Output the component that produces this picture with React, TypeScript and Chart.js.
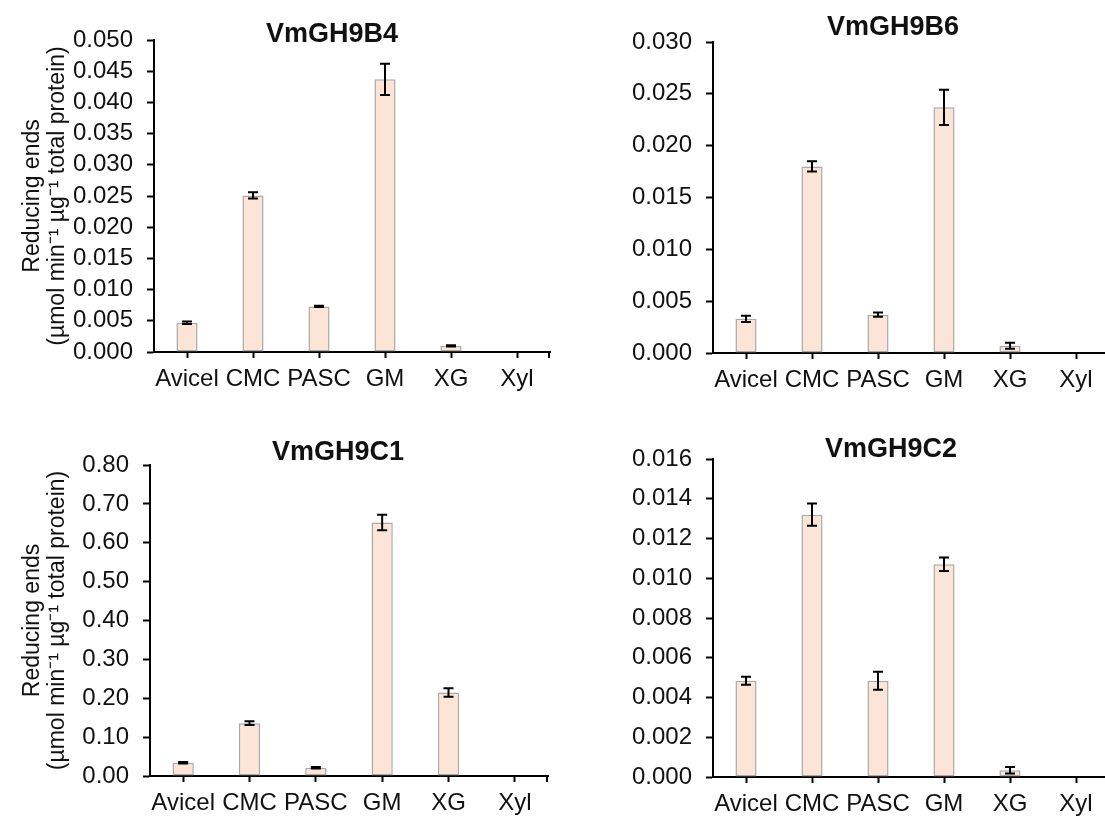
import React, { useEffect, useRef } from "react";
import { Chart, registerables } from "chart.js";

Chart.register(...registerables);

// ---------- data ----------
const categories = ["Avicel", "CMC", "PASC", "GM", "XG", "Xyl"];

const valuesB4 = [0.0047, 0.0251, 0.0073, 0.0437, 0.001, 0];
const errorsB4 = [0.0002, 0.0005, 0.0001, 0.0025, 0.0001, 0];
const ticksB4 = [0, 0.005, 0.01, 0.015, 0.02, 0.025, 0.03, 0.035, 0.04, 0.045, 0.05];

const valuesB6 = [0.0033, 0.018, 0.0037, 0.0237, 0.0007, 0];
const errorsB6 = [0.0003, 0.0005, 0.0002, 0.0017, 0.0003, 0];
const ticksB6 = [0, 0.005, 0.01, 0.015, 0.02, 0.025, 0.03];

const valuesC1 = [0.034, 0.136, 0.021, 0.652, 0.215, 0];
const errorsC1 = [0.002, 0.005, 0.002, 0.02, 0.011, 0];
const ticksC1 = [0, 0.1, 0.2, 0.3, 0.4, 0.5, 0.6, 0.7, 0.8];

const valuesC2 = [0.00484, 0.0132, 0.00484, 0.0107, 0.00034, 0];
const errorsC2 = [0.0002, 0.00056, 0.00045, 0.00034, 0.00016, 0];
const ticksC2 = [0, 0.002, 0.004, 0.006, 0.008, 0.01, 0.012, 0.014, 0.016];

const yTitleLines = ["Reducing ends", "(µmol min⁻¹ µg⁻¹ total protein)"];

// ---------- styles ----------
const FONT = '"Liberation Sans", Arial, Helvetica, sans-serif';
const TEXT = "#111111";
const BAR_FILL = "#FCE4D6";
const BAR_EDGE = "#A8A8A8";

type Panel = {
  title: string;
  values: number[];
  errors: number[];
  ticks: number[];
  decimals: number;
  yTitle: boolean;
  cl: number; ct: number; cw: number; ch: number;
  left: number; right: number; top: number; bottom: number;
  tx: number; ty: number;
};

const panels: Panel[] = [
  {
    title: "VmGH9B4", values: valuesB4, errors: errorsB4, ticks: ticksB4, decimals: 3, yTitle: true,
    cl: 0, ct: 0, cw: 575, ch: 405,
    left: 154, right: 550, top: 40, bottom: 352,
    tx: 332, ty: 42,
  },
  {
    title: "VmGH9B6", values: valuesB6, errors: errorsB6, ticks: ticksB6, decimals: 3, yTitle: false,
    cl: 590, ct: 0, cw: 545, ch: 405,
    left: 713, right: 1109, top: 42, bottom: 353,
    tx: 893, ty: 35,
  },
  {
    title: "VmGH9C1", values: valuesC1, errors: errorsC1, ticks: ticksC1, decimals: 2, yTitle: true,
    cl: 0, ct: 410, cw: 575, ch: 409,
    left: 150, right: 548, top: 465, bottom: 776,
    tx: 338, ty: 460,
  },
  {
    title: "VmGH9C2", values: valuesC2, errors: errorsC2, ticks: ticksC2, decimals: 3, yTitle: false,
    cl: 590, ct: 410, cw: 545, ch: 409,
    left: 713, right: 1109, top: 459, bottom: 777,
    tx: 891, ty: 457,
  },
];

// ---------- plugins ----------
const panelTitlePlugin = {
  id: "panelTitle",
  afterDraw(chart: any, _args: any, opts: any) {
    if (!opts || !opts.text) return;
    const ctx = chart.ctx;
    ctx.save();
    ctx.font = `bold ${opts.size}px ${FONT}`;
    ctx.fillStyle = opts.color;
    ctx.textAlign = "center";
    ctx.textBaseline = "alphabetic";
    ctx.fillText(opts.text, opts.x, opts.y);
    ctx.restore();
  },
};

const errorBarPlugin = {
  id: "errorBars",
  afterDatasetsDraw(chart: any, _args: any, opts: any) {
    const errs: number[] = (opts && opts.errors) || [];
    const meta = chart.getDatasetMeta(0);
    const ys = chart.scales.y;
    const data = chart.data.datasets[0].data as number[];
    const ctx = chart.ctx;
    ctx.save();
    ctx.strokeStyle = "#000";
    ctx.lineWidth = 2;
    meta.data.forEach((bar: any, i: number) => {
      const e = errs[i];
      if (!e) return;
      const v = data[i];
      const yHi = ys.getPixelForValue(v + e);
      const yLo = ys.getPixelForValue(Math.max(0, v - e));
      const x = bar.x;
      const cap = 5;
      ctx.beginPath();
      ctx.moveTo(x, yHi);
      ctx.lineTo(x, yLo);
      ctx.moveTo(x - cap, yHi);
      ctx.lineTo(x + cap, yHi);
      ctx.moveTo(x - cap, yLo);
      ctx.lineTo(x + cap, yLo);
      ctx.stroke();
    });
    ctx.restore();
  },
};

const endTickPlugin = {
  id: "endTick",
  afterDraw(chart: any) {
    const { right, bottom } = chart.chartArea;
    const ctx = chart.ctx;
    ctx.save();
    ctx.strokeStyle = "#000";
    ctx.lineWidth = 2;
    ctx.beginPath();
    ctx.moveTo(right - 1, bottom);
    ctx.lineTo(right - 1, bottom + 6);
    ctx.stroke();
    ctx.restore();
  },
};

function makeConfig(p: Panel): any {
  const tickFont = { family: FONT, size: 24 };
  return {
    type: "bar",
    data: {
      labels: categories,
      datasets: [
        {
          data: p.values,
          backgroundColor: BAR_FILL,
          borderColor: BAR_EDGE,
          borderWidth: 1.5,
          borderSkipped: false,
          barPercentage: 0.32,
          categoryPercentage: 1,
        },
      ],
    },
    options: {
      responsive: false,
      maintainAspectRatio: false,
      animation: false,
      events: [],
      layout: {
        padding: {
          left: 0,
          top: p.top - p.ct,
          right: p.cl + p.cw - p.right,
          bottom: 0,
        },
      },
      plugins: {
        legend: { display: false },
        tooltip: { enabled: false },
        title: { display: false },
        panelTitle: { text: p.title, size: 27, color: TEXT, x: p.tx - p.cl, y: p.ty - p.ct },
        errorBars: { errors: p.errors },
      },
      scales: {
        x: {
          type: "category",
          offset: true,
          grid: {
            offset: false,
            drawOnChartArea: false,
            drawTicks: true,
            tickLength: 6,
            tickWidth: 2,
            tickColor: "#000",
          },
          border: { display: true, color: "#000", width: 2 },
          ticks: {
            autoSkip: false,
            maxRotation: 0,
            minRotation: 0,
            padding: 7,
            color: TEXT,
            font: tickFont,
          },
          afterFit: (s: any) => {
            s.height = p.ct + p.ch - p.bottom;
          },
        },
        y: {
          min: 0,
          max: p.ticks[p.ticks.length - 1],
          afterBuildTicks: (s: any) => {
            s.ticks = p.ticks.map((v) => ({ value: v }));
          },
          grid: {
            drawOnChartArea: false,
            drawTicks: true,
            tickLength: 7,
            tickWidth: 2,
            tickColor: "#000",
          },
          border: { display: true, color: "#000", width: 2 },
          ticks: {
            autoSkip: false,
            padding: 14,
            color: TEXT,
            font: tickFont,
            callback: (v: any) => Number(v).toFixed(p.decimals),
          },
          title: p.yTitle
            ? {
                display: true,
                text: yTitleLines,
                color: TEXT,
                font: { family: FONT, size: 23, lineHeight: 1.1 },
                padding: { top: 20, bottom: 0 },
              }
            : { display: false },
          afterFit: (s: any) => {
            s.width = p.left - p.cl;
          },
        },
      },
    },
    plugins: [panelTitlePlugin, errorBarPlugin, endTickPlugin],
  };
}

function BarPanel({ p }: { p: Panel }) {
  const ref = useRef<HTMLCanvasElement | null>(null);
  useEffect(() => {
    if (!ref.current) return;
    const chart = new Chart(ref.current, makeConfig(p));
    return () => chart.destroy();
  }, [p]);
  return (
    <canvas
      ref={ref}
      width={p.cw}
      height={p.ch}
      style={{
        position: "absolute",
        left: p.cl,
        top: p.ct,
        width: p.cw,
        height: p.ch,
      }}
    />
  );
}

export default function App() {
  return (
    <div
      style={{
        position: "absolute",
        left: 0,
        top: 0,
        width: 1105,
        height: 819,
        overflow: "hidden",
        background: "#ffffff",
      }}
    >
      {panels.map((p) => (
        <BarPanel key={p.title} p={p} />
      ))}
    </div>
  );
}
